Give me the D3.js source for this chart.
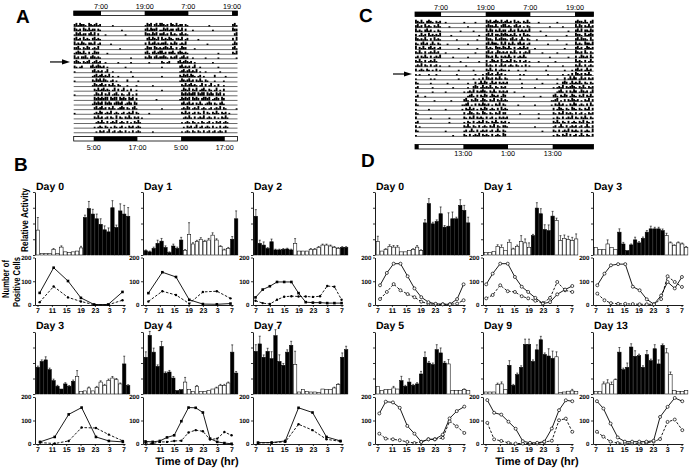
<!DOCTYPE html>
<html><head><meta charset="utf-8">
<script src="https://cdn.jsdelivr.net/npm/d3@7/dist/d3.min.js"></script>
<style>
html,body{margin:0;padding:0;background:#fff;}
svg{display:block;}
text{text-rendering:geometricPrecision;}
</style></head><body>
<svg id="fig" width="691" height="470"></svg>
<script>
// ================= DATA =================
// Actogram A: one string per day, 48 half-hour bins starting at 23:30 ('.' none, 1-3 activity level)
const actoA_days = [
 "2313221.3212312"+"......1................."+"1323.2313",
 "3212.3213122.21"+"...........1............"+"2313223.1",
 "1323122.2313.2."+"..1..........1.........."+"3221323.2",
 "2312.3121.23121"+"........................"+".2313213.",
 "3121321.2213.12"+".....1.................."+"2.3123121",
 "2231.2132.1213."+"..........1............."+"1322.3212",
 "1232131.2.1322."+"...1...................."+"231.23123",
 "312.2231.232121"+"................1......."+"2132.2312",
 "2321.2123.12312"+"..1......1......1......."+"..1......",
 "21.12....231232"+"12.1.........1.........."+".........",
 "1.........23121"+"2.13..1.........1......."+".........",
 "..........12312"+"31213.1..1.......1......"+".........",
 "1.........21323"+"1321.12.1.....2.....1..."+".........",
 "..........13212"+"312.2131.21...1....1...."+"....1....",
 "...........2131"+"23121.13.2.13.1.2..1...."+".........",
 "1..........1321"+"3.213.1231.21.13.1.2...."+".........",
 "...........3232"+"3233.3233.3232.323.2...."+"......1..",
 "..........13232"+"3.3232.23323.1232.32...."+".........",
 "...........2312"+"312.2131.1232.21.231...."+".........",
 "1..........1213"+"2.1213.121.12.1213.21..."+"..1......",
 "...........2131"+"2.12.21.3.21.2131.212.1."+".........",
 "............121"+"31.2.1213.121.2.1.2131.."+".........",
 "...........1.12"+"1.21.1.21.12.1.212.121.."+".........",
 "............1.2"+"12.13.12.121.2.1.2.121.."+"....1....",
 "...........1.12"+"1.21.21.2.12.12.121.2..."+"........."
];
const actoA_span = 45;                       // hours shown per row (from 23:30)
const actoA_topDark = [[0,7.5],[19.5,31.5],[43.5,45]];
const actoA_topLabels = ["7:00","19:00","7:00","19:00"];
const actoA_topLabelHours = [7.5,19.5,31.5,43.5];
const actoA_bottomDark = [[5.5,17.5],[29.5,41.5]];
const actoA_bottomLabels = ["5:00","17:00","5:00","17:00"];
const actoA_bottomLabelHours = [5.5,17.5,29.5,41.5];
const actoA_arrowRow = 8;

// Actogram C: 48 half-hour bins starting at 0:00
const actoC_days = [
 "32131.2321.212"+"..1.........1.....1....."+"3231232131",
 "2312.3121.2131"+"....1.........1........."+"2322131.23",
 "3121.2312.1.21"+"..........1......1......"+"3132.21312",
 "2.1312.3121213"+".....1..............1..."+"2313.22132",
 "3212131.2.3121"+"........1..........1...."+"3221.31232",
 "21.2312.131.21"+"...1..........1........."+"2313221.31",
 "3.2131.2312.12"+".........1.........1...."+"3121.32213",
 "2131.2.121312."+"..1...............1....."+"2312.13212",
 "12.2131.2.1213"+"......1.......1........."+"3212.31.21",
 "2131.2.12131.."+"..........1.........1..."+"2.13212.31",
 "1213.21.2.12.1"+"....1........1.........."+"3121.2.131",
 "2.121.21.1.2.1"+".........1.......1......"+"2131.2.121",
 "1.1....1...1.."+"........1.........1...1."+"2312.1312.",
 "1.......1.1..."+".........1.......1..1.2."+"3212.2131.",
 "21......1....."+"...1..........1...2.1313"+"2.1312.212",
 "12.......1...."+"......1.......1..232.131"+"2131.21.21",
 "2........1...."+"..1.........1.1213.21232"+"1.2131.212",
 "12...1........"+"..............1231.2.213"+"2.13212.13",
 "2.........1..."+".....1......231.2132.132"+"1.213.2131",
 "21............"+"...........1123.1.2.2132"+"12.1.213.2",
 "1......1......"+"..1........1.21312.1.213"+"2.121.2.31",
 "21............"+"............2.1321.21.32"+"1.21.213.2",
 "2.......1....."+"....1.......21.213.2121."+"2.12.1.212",
 "12............"+"....1.......1.21.2.1213."+"21.2131.21",
 "2.1..........."+"............2131.21.2.12"+"1.213.21.2",
 "21............"+"..1.........12.131.2.121"+"2.12.131.2",
 "1............."+"......1.....21.2.1213.21"+"21.2.121.3",
 "2............."+"............1.21.213.2.1"+"2.131.21.2"
];
const actoC_span = 48;
const actoC_topDark = [[0,7],[19,31],[43,48]];
const actoC_topLabels = ["7:00","19:00","7:00","19:00"];
const actoC_topLabelHours = [7,19,31,43];
const actoC_bottomDark = [[0,1],[13,25],[37,48]];
const actoC_bottomLabels = ["13:00","1:00","13:00"];
const actoC_bottomLabelHours = [13,25,37];
const actoC_arrowRow = 12;

// Relative activity: 24 hourly bins from 7:00
const barBins = d3.range(7,31);
const darkB0 = [0,0,0,0,0,0,0,0,0,0,0,0,1,1,1,1,1,1,1,1,1,1,1,1];
const darkB  = [1,1,1,1,1,1,1,1,1,1,0,0,0,0,0,0,0,0,0,0,0,0,1,1];
const darkD0 = [0,0,0,0,0,0,0,0,0,0,0,0,1,1,1,1,1,1,1,1,1,1,1,1];
const darkD1 = [0,0,0,0,0,0,0,0,0,0,0,0,1,1,1,1,1,1,0,0,0,0,0,0];
const darkD  = [0,0,0,0,0,0,1,1,1,1,1,1,1,1,1,1,1,1,0,0,0,0,0,0];

const actB0 = [1.58,0.1,0.1,0.1,0.36,0.1,0.5,0.2,0.17,0.2,0.25,0.45,2.38,2.95,2.6,2.3,1.95,1.6,1.47,3.0,1.75,2.8,2.6,2.46];
const errB0 = [0.8,0,0,0,0.05,0,0.08,0,0,0,0,0.1,0.15,0.45,0.3,0.3,0.35,0.25,0.25,0.45,0.15,0.45,0.55,0.55];
const actB1 = [0.27,0.2,0.42,0.74,0.88,0.48,0.15,0.57,0.42,0.95,0.3,1.3,0.7,0.85,1.0,0.85,0.95,1.26,0.95,0.53,0.32,0.42,1.0,2.3];
const errB1 = [0.05,0.05,0.08,0.2,0.17,0.1,0.05,0.12,0.08,0.17,0.05,0.75,0.08,0.08,0.1,0.08,0.1,0.15,0.08,0.06,0.05,0.06,0.17,0.5];
const actB2 = [2.46,0.74,0.63,0.42,0.84,0.32,0.32,0.36,0.38,0.32,0.74,0.25,0.25,0.25,0.36,0.36,0.48,0.63,0.63,0.57,0.48,0.42,0.48,0.48];
const errB2 = [0.42,0.2,0.2,0.05,0.17,0.05,0.05,0.05,0.05,0.05,0.3,0.03,0.03,0.03,0.05,0.05,0.06,0.06,0.06,0.06,0.06,0.05,0.05,0.05];
const actB3 = [1.72,2.1,2.2,1.57,0.86,0.5,0.32,0.65,0.5,0.82,1.14,0.17,0.2,0.39,0.2,0.43,0.77,0.56,0.88,1.03,0.92,0.65,1.94,0.54];
const errB3 = [0.08,0.1,0.2,0.1,0.1,0.06,0.04,0.08,0.05,0.08,0.37,0.03,0.03,0.06,0.03,0.06,0.08,0.06,0.08,0.1,0.08,0.06,0.5,0.06];
const actB4 = [2.37,3.78,2.7,1.78,3.07,1.35,1.42,1.03,0.22,0.28,0.77,0.28,0.17,0.5,0.17,0.17,0.24,0.32,0.39,0.56,0.56,0.71,2.7,1.35];
const errB4 = [0.35,0.26,0.26,0.1,0.32,0.08,0.1,0.1,0.03,0.03,0.3,0.04,0.03,0.05,0.03,0.03,0.04,0.04,0.05,0.06,0.06,0.06,0.47,0.1];
const actB7 = [2.75,3.23,2.37,2.75,2.28,3.76,2.1,1.85,2.7,3.14,1.9,0.13,0.28,0.17,0.13,0.13,0.1,0.32,0.28,0.28,0.39,0.6,2.37,2.86];
const errB7 = [0.43,0.5,0.15,0.2,0.45,0.39,0.43,0.12,0.15,0.26,0.86,0.02,0.04,0.03,0.02,0.02,0.02,0.04,0.04,0.04,0.05,0.06,0.28,0.22];
const actD0 = [0.85,0.25,0.35,0.55,0.5,0.5,0.2,0.2,0.28,0.35,0.5,0.28,2.04,3.26,1.98,2.13,2.62,1.77,1.83,2.3,2.3,3.15,2.83,2.04];
const errD0 = [0.34,0.04,0.05,0.1,0.1,0.1,0.03,0.03,0.04,0.05,0.1,0.05,0.2,0.32,0.1,0.1,0.43,0.1,0.85,0.43,0.1,0.36,0.32,0.36];
const actD1 = [0.17,0.17,0.21,0.55,0.49,0.28,0.81,0.38,0.55,0.85,0.77,0.49,1.23,2.98,2.62,1.62,1.55,2.47,2.19,0.91,1.06,0.98,0.91,1.02];
const errD1 = [0.03,0.03,0.03,0.1,0.15,0.04,0.15,0.05,0.08,0.38,0.25,0.28,0.08,0.34,0.32,0.3,0.36,0.3,0.15,0.32,0.21,0.21,0.21,0.32];
const actD3 = [0.49,0.34,0.34,0.7,0.49,0.34,1.45,0.7,0.28,0.64,0.96,0.77,1.06,1.45,1.66,1.66,1.66,1.55,1.23,0.77,0.6,0.77,0.7,0.49];
const errD3 = [0.04,0.03,0.03,0.26,0.04,0.03,0.21,0.1,0.03,0.06,0.17,0.08,0.08,0.1,0.17,0.1,0.1,0.1,0.15,0.06,0.05,0.06,0.06,0.05];
const actD5 = [0.49,0.24,0.28,0.28,0.39,0.32,0.86,0.5,0.77,0.56,0.65,1.29,2.37,2.0,1.9,2.86,2.65,2.0,1.94,0.24,0.24,0.24,0.28,0.24];
const errD5 = [0.04,0.03,0.03,0.03,0.1,0.04,0.28,0.06,0.21,0.06,0.08,0.17,0.34,0.1,0.1,0.32,0.32,0.1,0.28,0.03,0.03,0.03,0.05,0.03];
const actD9 = [0.13,0.13,0.13,0.6,0.65,0.28,1.85,0.56,1.25,1.72,3.2,3.2,2.1,2.85,3.5,2.55,2.45,2.3,2.4,0.1,0.13,0.18,0.2,0.15];
const errD9 = [0.02,0.02,0.02,0.1,0.13,0.04,0.3,0.06,0.1,0.1,0.34,0.34,0.1,0.32,0.22,0.1,0.47,0.47,0.32,0.02,0.02,0.03,0.1,0.03];
const actD13 = [0.17,0.17,0.65,0.71,0.6,0.92,2.7,1.57,1.72,3.03,2.43,2.47,1.72,2.54,2.15,2.92,1.94,3.14,2.65,1.25,0.24,0.17,0.17,0.22];
const errD13 = [0.02,0.02,0.13,0.21,0.17,0.05,0.3,0.1,0.28,0.21,0.36,0.1,0.1,0.26,0.1,0.26,0.26,0.09,0.28,0.17,0.03,0.02,0.02,0.03];

// Number of positive cells (sampling hour, 7 = 7:00, 31 = 7:00 next day)
const tB0 = [7.6,11.5,15.5,19.1,22.8,26.7,30.7];
const solB0 = [51,157,101,30,2,2,55];
const dasB0 = [12,78,32,15,1,1,20];
const tB1 = [7.8,11.7,15.5,19.2,23,26.9,30.7];
const solB1 = [50,138,118,22,4,3,6];
const dasB1 = [15,58,42,6,55,58,28];
const tB2 = [7,9,11,13,15,17,19,21,23,25,27,29,31];
const solB2 = [32,65,79,97,97,97,50,12,10,10,8,8,8];
const dasB2 = [18,8,4,22,35,37,36,36,34,37,80,77,22];
const tB3 = [7.7,11.8,15.7,19.3,23.3,26.9,30.8];
const solB3 = [9,30,126,155,30,13,9];
const dasB3 = [6,2,13,70,68,40,13];
const tB4 = [7,9,11,13,15,17,19,21,23,25,27,29,31];
const solB4 = [11,9,13,28,37,97,155,154,134,23,9,4,1];
const dasB4 = [5,2,9,9,13,14,49,59,54,19,23,51,37];
const tB7 = [7.7,11.5,15.3,19,22.9,26.8,30.7];
const solB7 = [6,6,13,154,134,30,13];
const dasB7 = [4,6,9,84,59,20,11];
const tD0 = [7.7,9.6,11.5,13.4,15.4,17.3,19.2,21.2,23.2,25.2,27.2,29.2,31];
const solD0 = [83,135,174,174,121,70,33,12,5,3,3,25,87];
const dasD0 = [25,55,88,62,46,33,14,5,3,3,3,6,20];
const tD1 = [7.2,9,11.1,13.2,15.2,17.1,18.9,20.9,23,25,27,29.2,31.2];
const solD1 = [87,132,174,174,118,77,55,30,6,12,45,65,80];
const dasD1 = [28,42,83,58,55,37,28,18,8,30,97,62,55];
const tD3 = [7.5,9.5,11.3,13.3,15.3,17.4,19.3,21.3,23.3,25.3,27.1,29.1,31.1];
const solD3 = [83,132,167,172,172,77,62,24,3,40,97,70,118];
const dasD3 = [48,20,8,5,5,4,3,3,3,25,121,97,76];
const tD5 = [7.5,9.3,11.3,13.2,15.3,17.3,19.2,21.2,23,25.2,27.1,29.1,31.2];
const solD5 = [130,180,177,154,77,44,9,20,20,40,109,140,159];
const dasD5 = [44,23,20,16,9,4,9,20,20,26,97,75,47];
const tD9 = [7.5,9.4,11.4,13.4,15.4,17.4,19.4,21.4,23.4,25.5,27.5,29.4,31.2];
const solD9 = [187,133,125,95,65,12,5,5,10,66,144,186,182];
const dasD9 = [90,20,13,5,2,2,2,2,8,14,101,108,52];
const tD13 = [7.4,9.2,11.2,13.2,15.2,17.2,19.2,21.2,23.2,25,27.1,29.1,31.2];
const solD13 = [182,151,87,28,10,10,10,10,14,115,158,196,182];
const dasD13 = [52,31,10,4,3,3,3,5,10,21,94,104,59];

const lineTicks = [7,11,15,19,23,27,31];
const countTicks = [0,100,200];

// ================= DRAWING =================
const svg = d3.select("#fig");
const FF = "'Liberation Sans', Arial, Helvetica, sans-serif";

function label(g, x, y, s, size, anchor, weight) {
  return g.append("text").attr("x", x).attr("y", y).text(s)
    .attr("font-family", FF).attr("font-size", size)
    .attr("font-weight", weight || "bold")
    .attr("text-anchor", anchor || "start").attr("fill", "#000");
}

function drawActogram(cfg) {
  const g = svg.append("g");
  const x = d3.scaleLinear().domain([0, cfg.span]).range([cfg.x0, cfg.x1]);
  const nRows = cfg.days.length - 1;
  const rowY = i => cfg.y0 + i * cfg.dy;
  const binW = x(0.5) - x(0);
  const lvl = {"1":1.4, "2":2.5, "3":3.6};
  for (let i = 0; i < nRows; i++) {
    const y = rowY(i);
    g.append("line").attr("x1", cfg.x0).attr("x2", cfg.x1).attr("y1", y).attr("y2", y)
      .attr("stroke", "#000").attr("stroke-width", 0.6);
    const marks = [];
    [0, 1].forEach(k => {
      const s = cfg.days[i + k].padEnd(48, ".").slice(0, 48);
      for (let b = 0; b < 48; b++) {
        const h = k * 24 + b * 0.5;
        if (h >= cfg.span) break;
        const c = s[b];
        if (lvl[c]) marks.push({h, v: lvl[c]});
      }
    });
    g.selectAll(null).data(marks).enter().append("rect")
      .attr("x", d => x(d.h)).attr("width", binW)
      .attr("y", d => y - d.v).attr("height", d => d.v).attr("fill", "#000");
  }
  // LD bars
  function ldBar(y, dark, labels, labelHours, ly) {
    g.append("rect").attr("x", cfg.x0).attr("y", y).attr("width", cfg.x1 - cfg.x0).attr("height", 4.5)
      .attr("fill", "#fff").attr("stroke", "#000").attr("stroke-width", 0.8);
    g.selectAll(null).data(dark).enter().append("rect")
      .attr("x", d => x(d[0])).attr("width", d => x(d[1]) - x(d[0]))
      .attr("y", y).attr("height", 4.5).attr("fill", "#000");
    labels.forEach((s, j) => label(g, x(labelHours[j]), ly, s, 7.2, "middle", "normal"));
  }
  ldBar(cfg.topY, cfg.topDark, cfg.topLabels, cfg.topLabelHours, cfg.topY - 2);
  ldBar(cfg.botY, cfg.botDark, cfg.botLabels, cfg.botLabelHours, cfg.botLabelY);
  // arrow
  const ay = rowY(cfg.arrowRow) - 1.5;
  g.append("line").attr("x1", cfg.arrowX0).attr("x2", cfg.arrowX1 - 6).attr("y1", ay).attr("y2", ay)
    .attr("stroke", "#000").attr("stroke-width", 1.2);
  g.append("path").attr("d", `M${cfg.arrowX1},${ay} L${cfg.arrowX1 - 8},${ay - 2.6} L${cfg.arrowX1 - 8},${ay + 2.6} Z`)
    .attr("fill", "#000");
}

drawActogram({days: actoA_days, span: actoA_span, x0: 73.7, x1: 237.5, y0: 26.5, dy: 4.62,
  topY: 11, topDark: actoA_topDark, topLabels: actoA_topLabels, topLabelHours: actoA_topLabelHours,
  botY: 136.5, botDark: actoA_bottomDark, botLabels: actoA_bottomLabels, botLabelHours: actoA_bottomLabelHours, botLabelY: 150,
  arrowRow: actoA_arrowRow, arrowX0: 50, arrowX1: 70});

drawActogram({days: actoC_days, span: actoC_span, x0: 415, x1: 593.6, y0: 23.3, dy: 4.35,
  topY: 12, topDark: actoC_topDark, topLabels: actoC_topLabels, topLabelHours: actoC_topLabelHours,
  botY: 144.5, botDark: actoC_bottomDark, botLabels: actoC_bottomLabels, botLabelHours: actoC_bottomLabelHours, botLabelY: 156,
  arrowRow: actoC_arrowRow, arrowX0: 393, arrowX1: 412});

// Panel letters
const gl = svg.append("g");
label(gl, 16, 23, "A", 19);
label(gl, 359, 22, "C", 19);
label(gl, 14, 171, "B", 19);
label(gl, 361, 167, "D", 19);

// row geometry of the small multiples
const rows = [
  {title: 190, barTop: 192, barBase: 255, lineTop: 257.5, lineZero: 305},
  {title: 329, barTop: 332, barBase: 394, lineTop: 397, lineZero: 444}
];

const panels = [
  {title: "Day 0", ax: 35,  row: 0, mk: "B", act: actB0, err: errB0, dark: darkB0, t: tB0, sol: solB0, das: dasB0},
  {title: "Day 1", ax: 143, row: 0, mk: "B", act: actB1, err: errB1, dark: darkB,  t: tB1, sol: solB1, das: dasB1},
  {title: "Day 2", ax: 253, row: 0, mk: "B", act: actB2, err: errB2, dark: darkB,  t: tB2, sol: solB2, das: dasB2},
  {title: "Day 3", ax: 35,  row: 1, mk: "B", act: actB3, err: errB3, dark: darkB,  t: tB3, sol: solB3, das: dasB3},
  {title: "Day 4", ax: 143, row: 1, mk: "B", act: actB4, err: errB4, dark: darkB,  t: tB4, sol: solB4, das: dasB4},
  {title: "Day 7", ax: 253, row: 1, mk: "B", act: actB7, err: errB7, dark: darkB,  t: tB7, sol: solB7, das: dasB7},
  {title: "Day 0", ax: 375, row: 0, mk: "D", act: actD0, err: errD0, dark: darkD0, t: tD0, sol: solD0, das: dasD0},
  {title: "Day 1", ax: 483, row: 0, mk: "D", act: actD1, err: errD1, dark: darkD1, t: tD1, sol: solD1, das: dasD1},
  {title: "Day 3", ax: 593, row: 0, mk: "D", act: actD3, err: errD3, dark: darkD,  t: tD3, sol: solD3, das: dasD3},
  {title: "Day 5", ax: 375, row: 1, mk: "D", act: actD5, err: errD5, dark: darkD,  t: tD5, sol: solD5, das: dasD5},
  {title: "Day 9", ax: 483, row: 1, mk: "D", act: actD9, err: errD9, dark: darkD,  t: tD9, sol: solD9, das: dasD9},
  {title: "Day 13", ax: 593, row: 1, mk: "D", act: actD13, err: errD13, dark: darkD, t: tD13, sol: solD13, das: dasD13}
];

function styleAxis(a, size) {
  a.select(".domain").attr("stroke", "#000").attr("stroke-width", 0.9);
  a.selectAll(".tick line").attr("stroke", "#000").attr("stroke-width", 0.8);
  a.selectAll("text").attr("font-family", FF).attr("font-weight", "bold").attr("font-size", size).attr("fill", "#000");
}

panels.forEach(p => {
  const R = rows[p.row], ax = p.ax;
  const g = svg.append("g");
  label(g, ax + 1, R.title, p.title, 10.5);
  const xb = d3.scaleBand().domain(barBins).range([ax + 1, ax + 95]).paddingInner(0.14).paddingOuter(0.04);
  const yb = d3.scaleLinear().domain([0, 4]).range([R.barBase, R.barTop]);
  const bd = barBins.map((h, i) => ({h, v: p.act[i], e: p.err[i], dark: p.dark[i]}));
  const bw = xb.bandwidth();
  g.selectAll(null).data(bd.filter(d => d.e > 0.04)).enter().append("path")
    .attr("d", d => {
      const cx = xb(d.h) + bw / 2, y0 = yb(d.v), y1 = yb(d.v + d.e);
      return `M${cx},${y0}V${y1}M${cx - 1},${y1}H${cx + 1}`;
    })
    .attr("stroke", "#000").attr("stroke-width", 0.6).attr("fill", "none");
  g.selectAll(null).data(bd).enter().append("rect")
    .attr("x", d => xb(d.h)).attr("width", bw)
    .attr("y", d => yb(d.v)).attr("height", d => R.barBase - yb(d.v))
    .attr("fill", d => d.dark ? "#000" : "#fff").attr("stroke", "#000").attr("stroke-width", 0.55);
  const ay = g.append("g").attr("transform", `translate(${ax},0)`)
    .call(d3.axisLeft(yb).tickValues([0, 1, 2, 3, 4]).tickSize(2).tickSizeOuter(0).tickFormat(""));
  styleAxis(ay, 6);

  // cell counts
  const lx = d3.scaleLinear().domain([6.3, 31.4]).range([ax, ax + 90]);
  const ly = d3.scaleLinear().domain([0, 200]).range([R.lineZero, R.lineTop]);
  const gy = g.append("g").attr("transform", `translate(${ax},0)`)
    .call(d3.axisLeft(ly).tickValues(countTicks).tickSize(2).tickSizeOuter(0).tickPadding(1.5));
  styleAxis(gy, 6.2);
  const gx = g.append("g").attr("transform", `translate(0,${R.lineZero})`)
    .call(d3.axisBottom(lx).tickValues(lineTicks).tickSize(2).tickSizeOuter(0).tickPadding(1.5).tickFormat(d => d % 24));
  styleAxis(gx, 7);
  const ln = d3.line().x(d => lx(d[0])).y(d => ly(d[1]));
  const sData = p.t.map((h, i) => [h, p.sol[i]]);
  const dData = p.t.map((h, i) => [h, p.das[i]]);
  g.append("path").attr("d", ln(dData)).attr("fill", "none").attr("stroke", "#000")
    .attr("stroke-width", 0.9).attr("stroke-dasharray", "2.6,1.6");
  g.append("path").attr("d", ln(sData)).attr("fill", "none").attr("stroke", "#000").attr("stroke-width", 0.9);
  if (p.mk === "B") {
    g.selectAll(null).data(sData).enter().append("rect")
      .attr("x", d => lx(d[0]) - 1.3).attr("y", d => ly(d[1]) - 1.3).attr("width", 2.6).attr("height", 2.6).attr("fill", "#000");
    g.selectAll(null).data(dData).enter().append("circle")
      .attr("cx", d => lx(d[0])).attr("cy", d => ly(d[1])).attr("r", 1.2).attr("fill", "#000");
  } else {
    [dData, sData].forEach(dd => {
      g.selectAll(null).data(dd).enter().append("circle")
        .attr("cx", d => lx(d[0])).attr("cy", d => ly(d[1])).attr("r", 1.5)
        .attr("fill", "#fff").attr("stroke", "#000").attr("stroke-width", 0.7);
    });
  }
});

// axis titles
const gt = svg.append("g");
label(gt, 197, 465, "Time of Day (hr)", 11, "middle");
label(gt, 537, 465, "Time of Day (hr)", 11, "middle");
function vlabel(x, y, s, len) {
  gt.append("text").attr("transform", `translate(${x},${y}) rotate(-90)`).text(s)
    .attr("font-family", FF).attr("font-size", 10).attr("font-weight", "bold")
    .attr("text-anchor", "middle").attr("textLength", len).attr("lengthAdjust", "spacingAndGlyphs");
}
vlabel(27.5, 220, "Relative Activity", 64);
vlabel(8.5, 279, "Number of", 38);
vlabel(19.5, 282, "Positive Cells", 50);
</script>
</body></html>
